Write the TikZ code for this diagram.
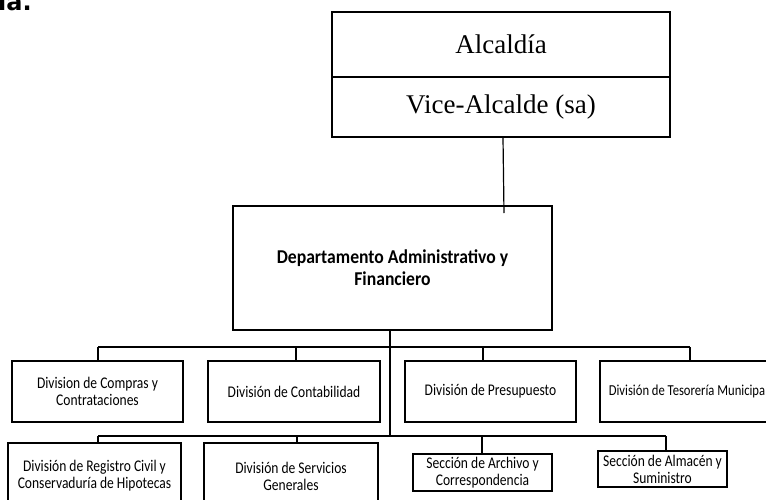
\documentclass[tikz,border=0pt]{standalone}
\usepackage{fontspec}
\setmainfont{Liberation Serif}
\newfontfamily\gillf[FakeStretch=0.83]{Carlito}
\newfontfamily\gillb[FakeStretch=0.9]{Carlito}
\newfontfamily\headf{DejaVu Sans}
\begin{document}
\begin{tikzpicture}[x=1pt,y=-1pt,
  lw/.style={line width=1.2pt},
  topbox/.style={draw,lw,minimum width=338pt,inner sep=0pt,font=\fontsize{27}{32}\selectfont},
  deptbox/.style={draw,lw,minimum width=319pt,minimum height=124pt,align=center,font=\gillb\bfseries\fontsize{19.6}{22}\selectfont},
  divbox/.style={draw,lw,inner sep=0pt,align=center,font=\gillf\fontsize{16.3}{17}\selectfont},
  conn/.style={lw}]
\useasboundingbox (0,0) rectangle (766,499);
% partial heading
\node[anchor=base west,inner sep=0pt,font=\headf\bfseries\fontsize{24}{28}\selectfont] (head) at (-2,10) {ia.};
% top boxes
\node[topbox,minimum height=65pt] (alc) at (501,44.5) {Alcaldía};
\node[topbox,minimum height=60pt] (vice) at (501,107) {Vice-Alcalde (sa)};
% department
\node[deptbox] (dept) at (392.5,268) {Departamento Administrativo y\\Financiero};
% row 1
\node[divbox,minimum width=171pt,minimum height=61pt] (b1) at (97.5,391.5) {Division de Compras y\\Contrataciones};
\node[divbox,minimum width=172pt,minimum height=61pt] (b2) at (294,391.5) {División de Contabilidad};
\node[divbox,minimum width=171pt,minimum height=61pt] (b3) at (490.5,391.5) {División de Presupuesto};
\node[divbox,minimum width=174pt,minimum height=61pt,font=\gillf\fontsize{15.2}{17}\selectfont] (b4) at (687,391.5) {División de Tesorería Municipa};
% row 2
\node[divbox,minimum width=173pt,minimum height=66pt] (b5) at (94.5,476) {División de Registro Civil y\\Conservaduría de Hipotecas};
\node[divbox,minimum width=174pt,minimum height=66pt] (b6) at (291,476) {División de Servicios\\Generales};
\node[divbox,minimum width=139pt,minimum height=37pt] (b7) at (482.5,472.5) {Sección de Archivo y\\Correspondencia};
\node[divbox,minimum width=129pt,minimum height=36pt] (b8) at (662.5,469) {Sección de Almacén y\\Suministro};
% connectors
\coordinate (c0) at (504,213);
\draw[conn] ([xshift=2pt]vice.south) -- (c0);
\coordinate (t0) at (390,329);
\coordinate (t1) at (390,436);
\draw[conn] (t0) -- (t1);
\coordinate (u1) at (98,347);
\coordinate (u2) at (296,347);
\coordinate (u3) at (483,347);
\coordinate (u4) at (690,347);
\draw[conn] (u1) -- (u4);
\draw[conn] (u1) -- (u1 |- b1.north);
\draw[conn] (u2) -- (u2 |- b2.north);
\draw[conn] (u3) -- (u3 |- b3.north);
\draw[conn] (u4) -- (u4 |- b4.north);
\coordinate (v1) at (98,436);
\coordinate (v2) at (297,436);
\coordinate (v3) at (482,436);
\coordinate (v4) at (666,436);
\draw[conn] (v1) -- (v4);
\draw[conn] (v1) -- (v1 |- b5.north);
\draw[conn] (v2) -- (v2 |- b6.north);
\draw[conn] (v3) -- (v3 |- b7.north);
\draw[conn] (v4) -- (v4 |- b8.north);
\end{tikzpicture}
\end{document}
